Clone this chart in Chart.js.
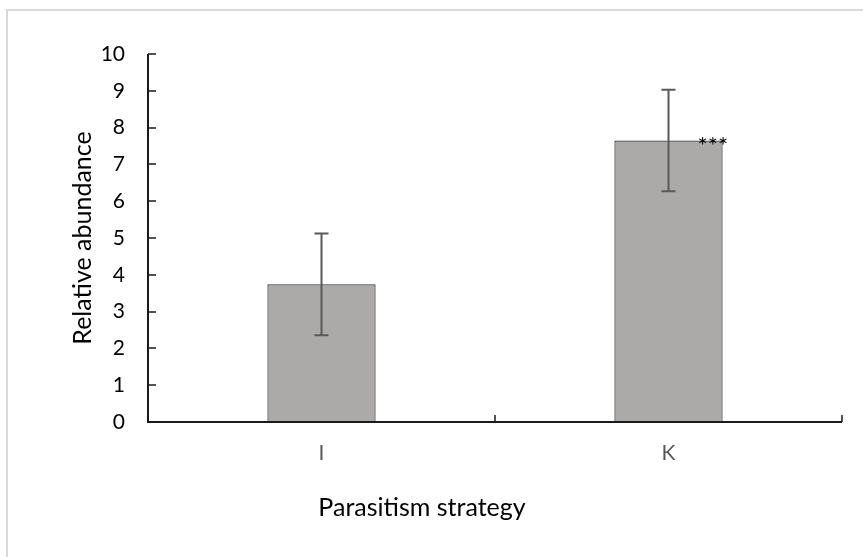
<!DOCTYPE html>
<html>
<head>
<meta charset="utf-8">
<script src="https://cdn.jsdelivr.net/npm/chart.js@4/dist/chart.umd.min.js"></script>
<style>
  html, body { margin: 0; padding: 0; background: #fff; }
  #wrap { width: 863px; height: 557px; }
</style>
</head>
<body>
<div id="wrap"><canvas id="chart" width="863" height="557"></canvas></div>
<script>
// data
const strategies = ['I', 'K'];
const abundance = [3.74, 7.65];
const errors = [1.38, 1.38];
const marks = ['', '***'];
const yTicks = [0, 1, 2, 3, 4, 5, 6, 7, 8, 9, 10];

const FONT = 'Lato, "Open Sans", sans-serif';

// outer frame, inner ticks, error bars, titles
const extras = {
  id: 'extras',
  beforeDraw(chart) {
    const ctx = chart.ctx;
    ctx.save();
    ctx.strokeStyle = '#d9d9d9';
    ctx.lineWidth = 2;
    ctx.strokeRect(7, 10, 900, 600);
    ctx.restore();
  },
  afterDatasetsDraw(chart) {
    const ctx = chart.ctx;
    const y = chart.scales.y;
    const x = chart.scales.x;
    const area = chart.chartArea;
    const meta = chart.getDatasetMeta(0);
    ctx.save();

    // error bars
    ctx.strokeStyle = '#595959';
    ctx.lineWidth = 2;
    meta.data.forEach((bar, i) => {
      const top = y.getPixelForValue(abundance[i] + errors[i]);
      const bot = y.getPixelForValue(abundance[i] - errors[i]);
      ctx.beginPath();
      ctx.moveTo(bar.x, top); ctx.lineTo(bar.x, bot);
      ctx.moveTo(bar.x - 7, top); ctx.lineTo(bar.x + 7, top);
      ctx.moveTo(bar.x - 7, bot); ctx.lineTo(bar.x + 7, bot);
      ctx.stroke();
    });

    // significance marks
    ctx.fillStyle = '#000';
    ctx.font = '24px ' + FONT;
    ctx.textAlign = 'left';
    ctx.textBaseline = 'alphabetic';
    meta.data.forEach((bar, i) => {
      if (!marks[i]) return;
      ctx.fillText(marks[i], bar.x + 29, bar.y + 14);
    });

    // axis lines
    ctx.strokeStyle = '#1a1a1a';
    ctx.lineWidth = 2;
    ctx.beginPath();
    ctx.moveTo(area.left, area.top);
    ctx.lineTo(area.left, area.bottom);
    ctx.lineTo(area.right, area.bottom);
    ctx.stroke();

    // inner tick marks
    ctx.lineWidth = 1.5;
    ctx.beginPath();
    yTicks.forEach(v => {
      const py = Math.round(y.getPixelForValue(v));
      ctx.moveTo(area.left, py); ctx.lineTo(area.left + 8, py);
    });
    for (let i = 0; i <= strategies.length; i++) {
      const px = x.getPixelForValue(i - 0.5);
      ctx.moveTo(px, area.bottom); ctx.lineTo(px, area.bottom - 7);
    }
    ctx.stroke();

    // axis titles
    ctx.fillStyle = '#000';
    ctx.font = '25px ' + FONT;
    ctx.textAlign = 'center';
    ctx.textBaseline = 'middle';
    ctx.fillText('Parasitism strategy', 422, 508);
    ctx.translate(83, 238);
    ctx.rotate(-Math.PI / 2);
    ctx.fillText('Relative abundance', 0, 0);
    ctx.restore();
  }
};

new Chart(document.getElementById('chart').getContext('2d'), {
  type: 'bar',
  data: {
    labels: strategies,
    datasets: [{
      label: 'Relative abundance',
      data: abundance,
      backgroundColor: '#abaaa8',
      borderColor: '#333',
      borderWidth: 1.2,
      borderSkipped: 'bottom',
      categoryPercentage: 1,
      barPercentage: 0.312
    }]
  },
  options: {
    responsive: false,
    animation: false,
    layout: { padding: { top: 54, right: 21, left: 0, bottom: 0 } },
    plugins: { legend: { display: false }, tooltip: { enabled: false } },
    scales: {
      x: {
        grid: { display: false, drawTicks: false },
        border: { display: false },
        ticks: { color: '#595959', font: { family: FONT, size: 21 }, padding: 19 },
        afterFit(s) { s.height = 135; }
      },
      y: {
        min: 0,
        max: 10,
        grid: { display: false, drawTicks: false },
        border: { display: false },
        ticks: { stepSize: 1, color: '#000', font: { family: FONT, size: 21 }, padding: 23 },
        afterFit(s) { s.width = 148; }
      }
    }
  },
  plugins: [extras]
});
</script>
</body>
</html>
